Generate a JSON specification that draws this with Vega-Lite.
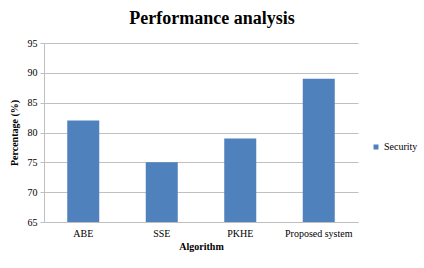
{
  "$schema": "https://vega.github.io/schema/vega-lite/v6.json",
  "autosize": {"type": "none"},
  "width": 314,
  "height": 179,
  "padding": {"left": 44, "top": 43, "right": 66, "bottom": 46},
  "background": "white",
  "title": {
    "text": "Performance analysis",
    "font": "Liberation Serif",
    "fontSize": 18,
    "fontWeight": "bold",
    "color": "#000000",
    "anchor": "middle",
    "dx": 11,
    "offset": 10
  },
  "data": {
    "values": [
      {"algorithm": "ABE", "series": "Security", "percentage": 82},
      {"algorithm": "SSE", "series": "Security", "percentage": 75},
      {"algorithm": "PKHE", "series": "Security", "percentage": 79},
      {"algorithm": "Proposed system", "series": "Security", "percentage": 89}
    ]
  },
  "mark": {"type": "bar", "width": 32, "clip": true},
  "encoding": {
    "x": {
      "field": "algorithm",
      "type": "nominal",
      "sort": null,
      "title": "Algorithm",
      "axis": {
        "labelAngle": 0,
        "ticks": false,
        "domainColor": "#bfbfbf",
        "labelFont": "Liberation Serif",
        "labelFontSize": 10,
        "labelColor": "#000000",
        "labelPadding": 6,
        "titleFont": "Liberation Serif",
        "titleFontSize": 10,
        "titleFontWeight": "bold",
        "titleColor": "#000000",
        "titlePadding": 3
      }
    },
    "y": {
      "field": "percentage",
      "type": "quantitative",
      "scale": {"domain": [65, 95], "zero": false, "nice": false},
      "title": "Percentage (%)",
      "axis": {
        "values": [65, 70, 75, 80, 85, 90, 95],
        "gridColor": "#c0c0c0",
        "gridWidth": 1,
        "domainColor": "#bfbfbf",
        "tickColor": "#bfbfbf",
        "tickSize": 4,
        "labelFont": "Liberation Serif",
        "labelFontSize": 10,
        "labelColor": "#000000",
        "labelPadding": 3,
        "titleFont": "Liberation Serif",
        "titleFontSize": 10,
        "titleFontWeight": "bold",
        "titleColor": "#000000",
        "titlePadding": 8
      }
    },
    "color": {
      "field": "series",
      "type": "nominal",
      "scale": {"range": ["#4F81BD"]},
      "legend": {
        "title": null,
        "orient": "none",
        "legendX": 327,
        "legendY": 99,
        "symbolType": "square",
        "symbolSize": 25,
        "labelFont": "Liberation Serif",
        "labelFontSize": 10,
        "labelColor": "#000000",
        "labelOffset": 3
      }
    }
  },
  "config": {
    "view": {"stroke": null}
  }
}
